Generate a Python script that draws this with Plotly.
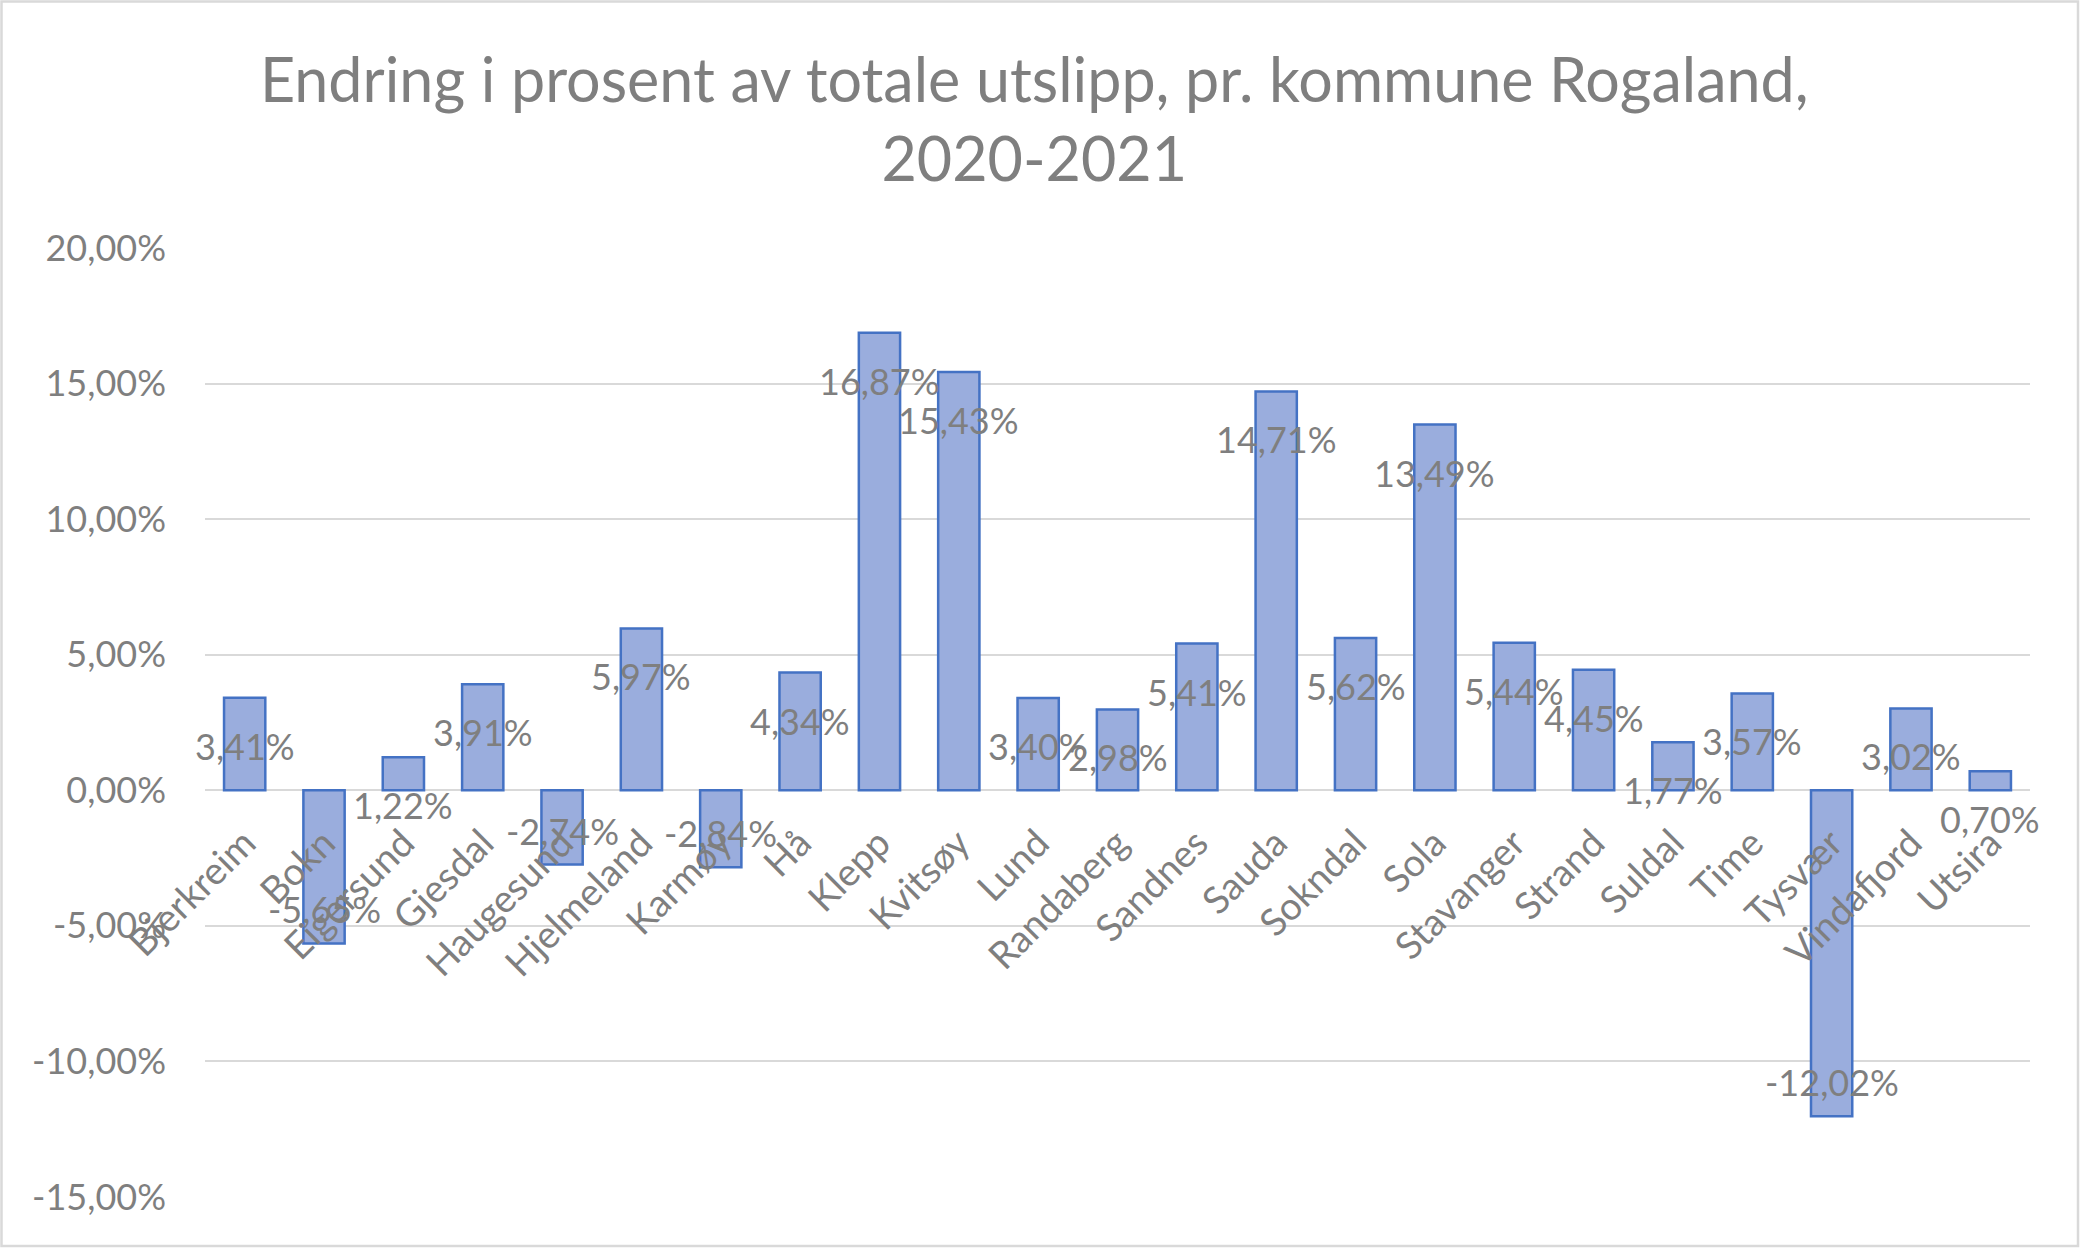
import plotly.graph_objects as go

kommuner = ["Bjerkreim", "Bokn", "Eigersund", "Gjesdal", "Haugesund", "Hjelmeland",
            "Karmøy", "Hå", "Klepp", "Kvitsøy", "Lund", "Randaberg", "Sandnes",
            "Sauda", "Sokndal", "Sola", "Stavanger", "Strand", "Suldal", "Time",
            "Tysvær", "Vindafjord", "Utsira"]
endring = [3.41, -5.65, 1.22, 3.91, -2.74, 5.97, -2.84, 4.34, 16.87, 15.43, 3.40,
           2.98, 5.41, 14.71, 5.62, 13.49, 5.44, 4.45, 1.77, 3.57, -12.02, 3.02, 0.70]
y_ticks = [-15, -10, -5, 0, 5, 10, 15, 20]
y_ticktext = ["-15,00%", "-10,00%", "-5,00%", "0,00%", "5,00%", "10,00%", "15,00%", "20,00%"]
tittel = "Endring i prosent av totale utslipp, pr. kommune Rogaland,<br>2020-2021"

W, H = 2081, 1249
ML, MR, MT, MB = 205, 51, 248, 52
YMIN, YMAX = -15, 20
GREY = "#7f7f7f"
FONT = "Lato"

fig = go.Figure()
fig.add_trace(go.Bar(
    x=kommuner, y=endring,
    marker=dict(color="#9aaddd", line=dict(color="#4472c4", width=2.5)),
    hoverinfo="x+y",
))

ann = []
for k, v in zip(kommuner, endring):
    ann.append(dict(
        x=k, y=v, xref="x", yref="y",
        text=f"{v:.2f}".replace(".", ",") + "%",
        showarrow=False, xanchor="center", yanchor="middle",
        yshift=-48 if v >= 0 else 34,
        font=dict(family=FONT, size=36, color=GREY),
    ))

pw = W - ML - MR
ph = H - MT - MB
border = dict(type="rect", xref="paper", yref="paper",
              x0=(1.5 - ML) / pw, x1=(W - 3 - ML) / pw,
              y0=-(MB - 3) / ph, y1=1 + (MT - 1.5) / ph,
              line=dict(color="#d9d9d9", width=2.5), layer="below")

fig.update_layout(
    width=W, height=H,
    margin=dict(l=ML, r=MR, t=MT, b=MB, autoexpand=False),
    paper_bgcolor="white", plot_bgcolor="white",
    bargap=0.48,
    showlegend=False,
    title=dict(text=tittel, x=0.497, xanchor="center", xref="container",
               y=1 - 102 / H, yanchor="top", yref="container",
               font=dict(family=FONT, size=61, color=GREY)),
    font=dict(family=FONT, size=36, color=GREY),
    xaxis=dict(
        type="category", anchor="free", range=[-0.5, len(kommuner) - 0.5],
        position=(0 - YMIN) / (YMAX - YMIN),
        tickangle=-45, showgrid=False, showline=False, zeroline=False,
        ticks="", ticklabelstandoff=22,
        tickfont=dict(family=FONT, size=38, color=GREY),
    ),
    yaxis=dict(
        range=[YMIN, YMAX], tickvals=y_ticks, ticktext=y_ticktext,
        showgrid=True, gridcolor="#d9d9d9", gridwidth=2.3,
        zeroline=False, showline=False, ticks="",
        ticklabelstandoff=38,
        tickfont=dict(family=FONT, size=36, color=GREY),
    ),
    annotations=ann,
    shapes=[border],
)

fig.write_html(
    "out.html",
    config={"displayModeBar": False},
    post_script="document.body.style.margin='0';document.body.style.overflow='hidden';",
)
